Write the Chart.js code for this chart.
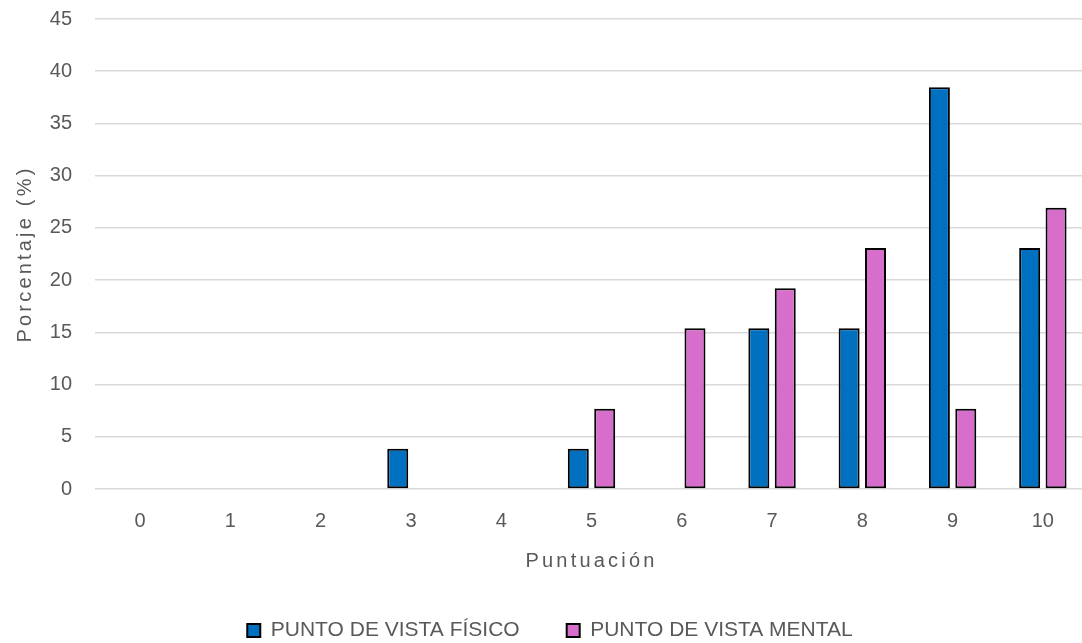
<!DOCTYPE html>
<html>
<head>
<meta charset="utf-8">
<script src="https://cdn.jsdelivr.net/npm/chart.js@4.4.0/dist/chart.umd.min.js"></script>
<style>
  html, body { margin: 0; padding: 0; background: #fff; overflow: hidden; }
  #wrap { width: 1088px; height: 643px; position: relative; }
</style>
</head>
<body>
<div id="wrap"><canvas id="c"></canvas></div>
<script>
const categories = ["0","1","2","3","4","5","6","7","8","9","10"];
const fisico = [0, 0, 0, 3.85, 0, 3.85, 0, 15.38, 15.38, 38.46, 23.08];
const mental = [0, 0, 0, 0, 0, 7.69, 15.38, 19.23, 23.08, 7.69, 26.92];
const seriesNames = ["PUNTO DE VISTA FÍSICO", "PUNTO DE VISTA MENTAL"];
const xTitle = "Puntuación";
const yTitle = "Porcentaje (%)";

const FONT = "'Liberation Sans', Arial, sans-serif";
const TXT = "#595959";

// letter-spaced axis titles
const origDrawTitle = Chart.Scale.prototype.drawTitle;
Chart.Scale.prototype.drawTitle = function (...args) {
  const ctx = this.ctx;
  ctx.save();
  try { ctx.letterSpacing = "3.2px"; } catch (e) {}
  origDrawTitle.apply(this, args);
  ctx.restore();
};

new Chart(document.getElementById("c"), {
  type: "bar",
  data: {
    labels: categories,
    datasets: [
      { label: seriesNames[0], data: fisico, backgroundColor: "#0070C0", borderColor: "#000", borderWidth: 2, borderSkipped: false,
        categoryPercentage: 0.585, barPercentage: 0.795 },
      { label: seriesNames[1], data: mental, backgroundColor: "#D86ECC", borderColor: "#000", borderWidth: 2, borderSkipped: false,
        categoryPercentage: 0.585, barPercentage: 0.795 }
    ]
  },
  options: {
    responsive: true,
    maintainAspectRatio: false,
    animation: false,
    layout: { padding: { left: 12, right: 0, top: 19, bottom: -8 } },
    plugins: {
      tooltip: { enabled: false },
      legend: {
        position: "bottom",
        labels: {
          color: TXT,
          font: { family: FONT, size: 21 },
          boxWidth: 13, boxHeight: 13,
          padding: 47
        }
      }
    },
    scales: {
      x: {
        grid: { display: false, drawTicks: false },
        border: { display: false },
        ticks: { color: TXT, font: { family: FONT, size: 20 }, padding: 20 },
        title: { display: true, text: xTitle, color: TXT, font: { family: FONT, size: 20 }, padding: { top: -4, bottom: 0 } }
      },
      y: {
        min: 0, max: 45,
        ticks: { stepSize: 5, color: TXT, font: { family: FONT, size: 20 }, padding: 0 },
        grid: { color: "#d9d9d9", lineWidth: 1.5, drawTicks: true, tickLength: 23, tickColor: "rgba(0,0,0,0)" },
        border: { display: false },
        title: { display: true, text: yTitle, color: TXT, font: { family: FONT, size: 20 }, padding: { top: 1, bottom: 0 } },
        afterFit: (s) => { s.width = 83; }
      }
    }
  }
});
</script>
</body>
</html>
